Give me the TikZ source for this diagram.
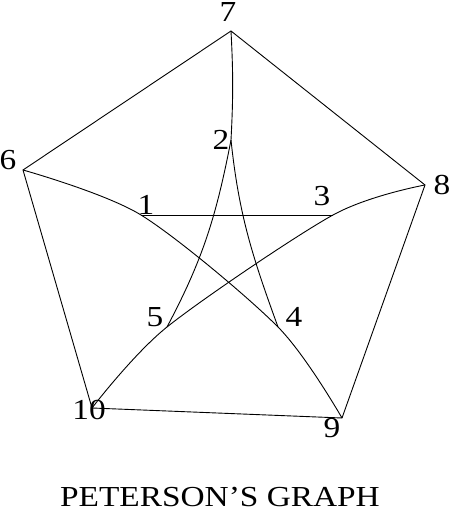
\documentclass[tikz,border=0pt]{standalone}
\usepackage{fontspec}
\newfontfamily\graphfont[FakeStretch=1.15]{Liberation Serif}

\begin{document}
\begin{tikzpicture}[
    x=1pt, y=1pt,
    font={\graphfont\fontsize{29}{34}\selectfont},
    link/.style={draw=black,line width=0.9pt},
    num/.style={inner sep=0pt,text=black},
    heading/.style={num},
]
    \useasboundingbox (0,0) rectangle (450,513);

    \coordinate (v6)  at ( 23,343);
    \coordinate (v7)  at (231,482);
    \coordinate (v8)  at (425,328);
    \coordinate (v9)  at (342, 95);
    \coordinate (v10) at ( 92,105);
    \coordinate (v1)  at (141,298);
    \coordinate (v2)  at (231,373);
    \coordinate (v3)  at (333,298);
    \coordinate (v4)  at (278,186);
    \coordinate (v5)  at (167,186);

    \node[num] (n1)  at (146,308) {1};
    \node[num] (n2)  at (221,373) {2};
    \node[num] (n3)  at (322,317) {3};
    \node[num] (n4)  at (294,196) {4};
    \node[num] (n5)  at (155,196) {5};
    \node[num] (n6)  at (  8,353) {6};
    \node[num] (n7)  at (228,501) {7};
    \node[num] (n8)  at (442,328) {8};
    \node[num] (n9)  at (332, 85) {9};
    \node[num] (n10) at ( 89,103) {10};

    \draw[link] (v6) -- (v7) -- (v8) -- (v9) -- (v10) -- cycle;
    \draw[link] (v1) -- (v3);
    \draw[link] plot[smooth] coordinates {(v6) (v1) (v4) (v9)};
    \draw[link] plot[smooth] coordinates {(v10) (v5) (v3) (v8)};
    \draw[link] (v7) to[out=273,in=87] (v2);
    \draw[link] (v2) to[out=259,in=62] (v5);
    \draw[link] (v2) to[out=276,in=110] (v4);

    \node[heading] (caption) at (220,16) {PETERSON’S GRAPH};
\end{tikzpicture}
\end{document}
